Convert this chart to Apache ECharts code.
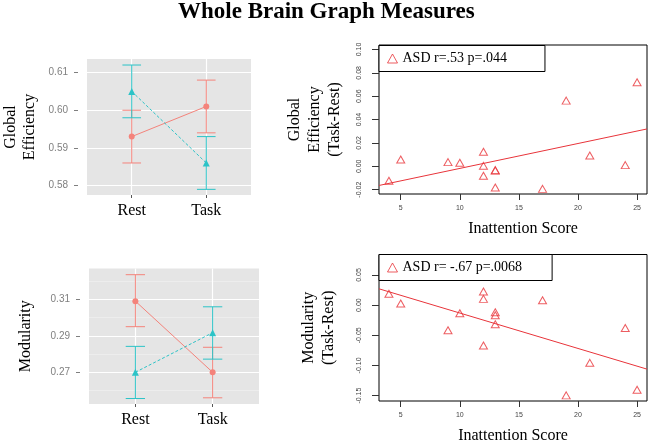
<!DOCTYPE html>
<html>
<head>
<meta charset="utf-8">
<script src="https://cdn.jsdelivr.net/npm/echarts@6/dist/echarts.min.js"></script>
<style>
html, body { margin: 0; padding: 0; background: #fff; }
#chart { width: 649px; height: 445px; }
</style>
</head>
<body>
<div id="chart"></div>
<script>
// conditions on the x axis of the left panels
const conditions = ["Rest", "Task"];

// global efficiency: means and error bar limits per group
const geRedMean = [0.593, 0.601];
const geRedLow = [0.586, 0.594];
const geRedHigh = [0.600, 0.608];
const geCyanMean = [0.605, 0.586];
const geCyanLow = [0.598, 0.579];
const geCyanHigh = [0.612, 0.593];
const geTicks = [0.58, 0.59, 0.60, 0.61];
const geMinor = [0.585, 0.595, 0.605];

// modularity: means and error bar limits per group
const modRedMean = [0.309, 0.270];
const modRedLow = [0.295, 0.256];
const modRedHigh = [0.3235, 0.2837];
const modCyanMean = [0.270, 0.2917];
const modCyanLow = [0.2556, 0.2772];
const modCyanHigh = [0.2842, 0.3059];
const modTicks = [0.27, 0.29, 0.31];
const modMinor = [0.26, 0.28, 0.30, 0.32];

// ASD inattention scores vs task-rest differences
const inattention = [4, 5, 9, 10, 12, 12, 12, 13, 13, 13, 17, 19, 21, 24, 25];
const geDiff = [-0.0124, 0.0058, 0.0036, 0.0030, 0.0124, 0.0004, -0.0081, -0.0033, -0.0036, -0.0182, -0.0193, 0.0562, 0.0093, 0.0010, 0.0719];
const modDiff = [0.019, 0.0028, -0.0416, -0.0135, 0.0227, 0.0104, -0.067, -0.0118, -0.0167, -0.0318, 0.0081, -0.1497, -0.0957, -0.0378, -0.1404];
const scoreTicks = [5, 10, 15, 20, 25];
const geDiffTicks = [-0.02, 0.00, 0.02, 0.04, 0.06, 0.08, 0.10];
const modDiffTicks = [-0.15, -0.10, -0.05, 0.00, 0.05];
const geLegend = "ASD r=.53 p=.044";
const modLegend = "ASD r= -.67 p=.0068";

const RED = "#f4837b";
const CYAN = "#2cc3c7";
const RRED = "#e8343a";
const SERIF = "Liberation Serif";
const capHalf = 0.125;

function errorBar(color) {
  return function (params, api) {
    const x = api.value(0);
    const lo = api.coord([x, api.value(1)]);
    const hi = api.coord([x, api.value(2)]);
    const l = api.coord([x - capHalf, api.value(1)])[0];
    const r = api.coord([x + capHalf, api.value(1)])[0];
    const st = { stroke: color, lineWidth: 1 };
    return {
      type: "group",
      children: [
        { type: "line", shape: { x1: lo[0], y1: lo[1], x2: hi[0], y2: hi[1] }, style: st },
        { type: "line", shape: { x1: l, y1: lo[1], x2: r, y2: lo[1] }, style: st },
        { type: "line", shape: { x1: l, y1: hi[1], x2: r, y2: hi[1] }, style: st }
      ]
    };
  };
}

function fitLine(xs, ys, x0, x1) {
  const n = xs.length;
  const mx = xs.reduce((a, b) => a + b, 0) / n;
  const my = ys.reduce((a, b) => a + b, 0) / n;
  let sxy = 0, sxx = 0;
  xs.forEach((x, i) => { sxy += (x - mx) * (ys[i] - my); sxx += (x - mx) * (x - mx); });
  const b = sxy / sxx;
  return [[x0, my + b * (x0 - mx)], [x1, my + b * (x1 - mx)]];
}

function gridLines(idx, ticks, minor) {
  return {
    type: "line", xAxisIndex: idx, yAxisIndex: idx, data: [], z: 1, silent: true,
    markLine: {
      z: 1, silent: true, symbol: "none", label: { show: false }, animation: false,
      data: minor.map(v => ({ yAxis: v, lineStyle: { color: "#f2f2f2", width: 0.6, type: "solid" } }))
        .concat(ticks.map(v => ({ yAxis: v, lineStyle: { color: "#fff", width: 1.2, type: "solid" } })))
        .concat([1, 2].map(v => ({ xAxis: v, lineStyle: { color: "#fff", width: 1.2, type: "solid" } })))
    }
  };
}

function meanLines(idx, redMean, cyanMean) {
  return [
    {
      type: "line", xAxisIndex: idx, yAxisIndex: idx, z: 4,
      data: redMean.map((v, i) => [i + 1, v]),
      symbol: "circle", symbolSize: 6,
      lineStyle: { color: RED, width: 1 }, itemStyle: { color: RED }
    },
    {
      type: "line", xAxisIndex: idx, yAxisIndex: idx, z: 4,
      data: cyanMean.map((v, i) => [i + 1, v]),
      symbol: "triangle", symbolSize: 7,
      lineStyle: { color: CYAN, width: 1, type: [3, 2] }, itemStyle: { color: CYAN }
    }
  ];
}

function bars(idx, low, high, color) {
  return {
    type: "custom", xAxisIndex: idx, yAxisIndex: idx, z: 3,
    data: conditions.map((c, i) => [i + 1, low[i], high[i]]),
    encode: { x: 0, y: [1, 2] },
    renderItem: errorBar(color)
  };
}

function catAxis(idx) {
  return {
    gridIndex: idx, type: "value", min: 0.4, max: 2.6,
    axisLine: { show: false, onZero: false }, splitLine: { show: false },
    axisTick: { customValues: [1, 2], length: 3, lineStyle: { color: "#555" } },
    axisLabel: {
      customValues: [1, 2], formatter: v => conditions[Math.round(v) - 1],
      fontFamily: SERIF, fontSize: 16, color: "#000", margin: 8
    }
  };
}

function meanAxis(idx, min, max, ticks, name, gap) {
  return {
    gridIndex: idx, type: "value", min: min, max: max, offset: 9,
    axisLine: { show: false, onZero: false }, splitLine: { show: false },
    axisTick: { customValues: ticks, length: 4, lineStyle: { color: "#7f7f7f" } },
    axisLabel: { customValues: ticks, formatter: v => v.toFixed(2), color: "#7f7f7f", fontSize: 10, margin: 10 },
    name: name, nameLocation: "middle", nameGap: gap,
    nameTextStyle: { fontFamily: SERIF, fontSize: 16, color: "#000", lineHeight: 19 }
  };
}

function scoreAxis(idx, shift) {
  return {
    gridIndex: idx, type: "value", min: 3.16, max: 25.84,
    axisLine: { show: false, onZero: false }, splitLine: { show: false },
    axisTick: { customValues: scoreTicks, length: 6, lineStyle: { color: "#333" } },
    axisLabel: { customValues: scoreTicks, fontSize: 7, color: "#444", margin: 11 },
    name: "Inattention Score", nameLocation: "middle", nameGap: 27,
    nameTextStyle: { fontFamily: SERIF, fontSize: 16, color: "#000", padding: [0, 0, 0, shift] }
  };
}

function diffAxis(idx, min, max, ticks, name, gap) {
  return {
    gridIndex: idx, type: "value", min: min, max: max,
    axisLine: { show: false, onZero: false }, splitLine: { show: false },
    axisTick: { customValues: ticks, length: 7, lineStyle: { color: "#333" } },
    axisLabel: { customValues: ticks, formatter: v => v.toFixed(2), rotate: 90, fontSize: 7, color: "#444", margin: 16 },
    name: name, nameLocation: "middle", nameGap: gap,
    nameTextStyle: { fontFamily: SERIF, fontSize: 16, color: "#000", lineHeight: 20 }
  };
}

function legendBox(name, top, rightPad) {
  return {
    data: [{ name: name, icon: "triangle" }],
    left: 379, top: top, selectedMode: false,
    padding: [5, rightPad, 5, 8], itemWidth: 10, itemHeight: 9,
    borderColor: "#000", borderWidth: 1, backgroundColor: "#fff",
    itemStyle: { color: "rgba(0,0,0,0)", borderColor: RRED, borderWidth: 1 },
    textStyle: { fontFamily: SERIF, fontSize: 14, color: "#000", lineHeight: 16 }
  };
}

const chart = echarts.init(document.getElementById("chart"));
chart.setOption({
  animation: false,
  title: {
    text: "Whole Brain Graph Measures", left: 178, top: 1, padding: 0,
    textStyle: { fontFamily: SERIF, fontWeight: "bold", fontSize: 23, color: "#000" }
  },
  legend: [legendBox(geLegend, 45.5, 38), legendBox(modLegend, 254.5, 30)],
  grid: [
    { left: 81, top: 59, width: 170, height: 136, show: true, backgroundColor: "#e5e5e5", borderWidth: 0 },
    { left: 89, top: 268.5, width: 170, height: 135.5, show: true, backgroundColor: "#e5e5e5", borderWidth: 0 },
    { left: 379, top: 45, width: 268, height: 149, show: true, backgroundColor: "rgba(0,0,0,0)", borderColor: "#000", borderWidth: 1 },
    { left: 379, top: 254.5, width: 268, height: 149, show: true, backgroundColor: "rgba(0,0,0,0)", borderColor: "#000", borderWidth: 1 }
  ],
  xAxis: [catAxis(0), catAxis(1), scoreAxis(2, 20), scoreAxis(3, 0)],
  yAxis: [
    meanAxis(0, 0.5775, 0.6136, geTicks, "Global\nEfficiency", 39),
    meanAxis(1, 0.2526, 0.3269, modTicks, "Modularity", 45),
    diffAxis(2, -0.0237, 0.1038, geDiffTicks, "Global\nEfficiency\n(Task-Rest)", 34),
    diffAxis(3, -0.159, 0.084, modDiffTicks, "Modularity\n(Task-Rest)", 40)
  ],
  series: [
    gridLines(0, geTicks, geMinor),
    gridLines(1, modTicks, modMinor),
    bars(0, geRedLow, geRedHigh, RED),
    bars(0, geCyanLow, geCyanHigh, CYAN),
    bars(1, modRedLow, modRedHigh, RED),
    bars(1, modCyanLow, modCyanHigh, CYAN),
    ...meanLines(0, geRedMean, geCyanMean),
    ...meanLines(1, modRedMean, modCyanMean),
    {
      name: geLegend, type: "scatter", xAxisIndex: 2, yAxisIndex: 2,
      data: inattention.map((x, i) => [x, geDiff[i]]),
      symbol: "triangle", symbolSize: [8, 7],
      itemStyle: { color: "rgba(0,0,0,0)", borderColor: RRED, borderWidth: 1 }
    },
    {
      type: "line", xAxisIndex: 2, yAxisIndex: 2, symbol: "none", silent: true,
      data: fitLine(inattention, geDiff, 3.16, 25.84),
      lineStyle: { color: RRED, width: 1 }
    },
    {
      name: modLegend, type: "scatter", xAxisIndex: 3, yAxisIndex: 3,
      data: inattention.map((x, i) => [x, modDiff[i]]),
      symbol: "triangle", symbolSize: [8, 7],
      itemStyle: { color: "rgba(0,0,0,0)", borderColor: RRED, borderWidth: 1 }
    },
    {
      type: "line", xAxisIndex: 3, yAxisIndex: 3, symbol: "none", silent: true,
      data: fitLine(inattention, modDiff, 3.16, 25.84),
      lineStyle: { color: RRED, width: 1 }
    }
  ]
});
</script>
</body>
</html>
